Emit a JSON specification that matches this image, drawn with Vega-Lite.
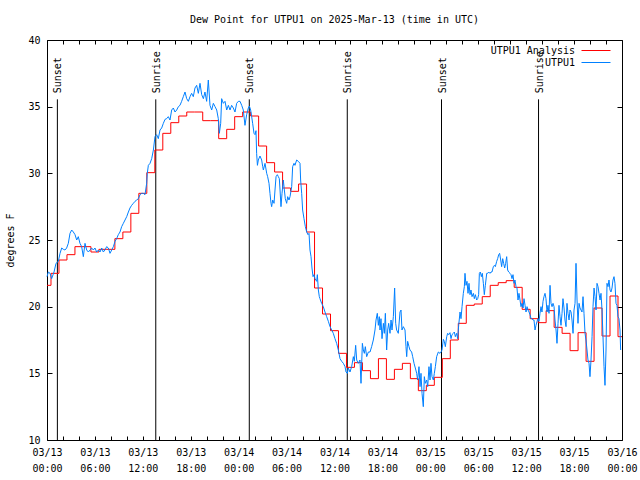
{
  "$schema": "https://vega.github.io/schema/vega-lite/v6.json",
  "autosize": {"type": "none"},
  "padding": {"left": 47, "top": 40, "right": 18, "bottom": 40},
  "width": 575,
  "height": 400,
  "background": "white",
  "title": {"text": "Dew Point for UTPU1 on 2025-Mar-13 (time in UTC)", "fontSize": 10, "fontWeight": "normal", "color": "black", "offset": 10, "anchor": "middle", "frame": "group"},
  "config": {
    "font": "DejaVu Sans Mono",
    "view": {"stroke": "black", "strokeWidth": 1},
    "axis": {"grid": false, "domain": false, "tickColor": "black", "labelColor": "black", "titleColor": "black", "labelFontSize": 10, "titleFontSize": 10, "titleFontWeight": "normal"}
  },
  "datasets": {
    "sun": [
      {"hour": 1.3, "event": "Sunset"},
      {"hour": 13.62, "event": "Sunrise"},
      {"hour": 25.33, "event": "Sunset"},
      {"hour": 37.6, "event": "Sunrise"},
      {"hour": 49.4, "event": "Sunset"},
      {"hour": 61.55, "event": "Sunrise"}
    ],
    "analysis": [
      {"hour": 0, "dewpoint": 21.6}, {"hour": 1, "dewpoint": 22.5}, {"hour": 2, "dewpoint": 23.5}, {"hour": 3, "dewpoint": 23.9},
      {"hour": 4, "dewpoint": 24.5}, {"hour": 5, "dewpoint": 24.5}, {"hour": 6, "dewpoint": 24.1}, {"hour": 7, "dewpoint": 24.3},
      {"hour": 8, "dewpoint": 24.3}, {"hour": 9, "dewpoint": 25.1}, {"hour": 10, "dewpoint": 25.6}, {"hour": 11, "dewpoint": 27.0},
      {"hour": 12, "dewpoint": 28.5}, {"hour": 13, "dewpoint": 30.05}, {"hour": 14, "dewpoint": 31.75}, {"hour": 15, "dewpoint": 33.0},
      {"hour": 16, "dewpoint": 33.8}, {"hour": 17, "dewpoint": 34.3}, {"hour": 18, "dewpoint": 34.6}, {"hour": 19, "dewpoint": 34.6},
      {"hour": 20, "dewpoint": 33.95}, {"hour": 21, "dewpoint": 33.95}, {"hour": 22, "dewpoint": 32.6}, {"hour": 23, "dewpoint": 33.3},
      {"hour": 24, "dewpoint": 34.25}, {"hour": 25, "dewpoint": 34.6}, {"hour": 26, "dewpoint": 34.3}, {"hour": 27, "dewpoint": 32.05},
      {"hour": 28, "dewpoint": 30.8}, {"hour": 29, "dewpoint": 30.1}, {"hour": 30, "dewpoint": 28.9}, {"hour": 31, "dewpoint": 28.65},
      {"hour": 32, "dewpoint": 29.2}, {"hour": 33, "dewpoint": 25.6}, {"hour": 34, "dewpoint": 21.4}, {"hour": 35, "dewpoint": 19.45},
      {"hour": 36, "dewpoint": 18.2}, {"hour": 37, "dewpoint": 16.5}, {"hour": 38, "dewpoint": 15.45}, {"hour": 39, "dewpoint": 15.8},
      {"hour": 40, "dewpoint": 15.2}, {"hour": 41, "dewpoint": 14.6}, {"hour": 42, "dewpoint": 16.1}, {"hour": 43, "dewpoint": 14.55},
      {"hour": 44, "dewpoint": 15.3}, {"hour": 45, "dewpoint": 15.75}, {"hour": 46, "dewpoint": 14.6}, {"hour": 47, "dewpoint": 13.7},
      {"hour": 48, "dewpoint": 14.1}, {"hour": 49, "dewpoint": 14.7}, {"hour": 50, "dewpoint": 16.1}, {"hour": 51, "dewpoint": 17.5},
      {"hour": 52, "dewpoint": 18.75}, {"hour": 53, "dewpoint": 20.1}, {"hour": 54, "dewpoint": 20.2}, {"hour": 55, "dewpoint": 20.75},
      {"hour": 56, "dewpoint": 21.6}, {"hour": 57, "dewpoint": 21.8}, {"hour": 58, "dewpoint": 21.95}, {"hour": 59, "dewpoint": 21.45},
      {"hour": 60, "dewpoint": 19.8}, {"hour": 61, "dewpoint": 19.1}, {"hour": 62, "dewpoint": 18.8}, {"hour": 63, "dewpoint": 19.7},
      {"hour": 64, "dewpoint": 18.45}, {"hour": 65, "dewpoint": 18.0}, {"hour": 66, "dewpoint": 16.7}, {"hour": 67, "dewpoint": 18.05},
      {"hour": 68, "dewpoint": 15.9}, {"hour": 69, "dewpoint": 19.9}, {"hour": 70, "dewpoint": 17.8}, {"hour": 71, "dewpoint": 20.8},
      {"hour": 72, "dewpoint": 17.75}
    ],
    "obs": [
      {"hour": 0.0, "dewpoint": 22.25}, {"hour": 0.17, "dewpoint": 22.6}, {"hour": 0.38, "dewpoint": 22.5}, {"hour": 0.58, "dewpoint": 22.1},
      {"hour": 0.88, "dewpoint": 22.6}, {"hour": 1.13, "dewpoint": 23.25}, {"hour": 1.42, "dewpoint": 23.4}, {"hour": 1.63, "dewpoint": 24.0},
      {"hour": 1.84, "dewpoint": 24.4}, {"hour": 2.05, "dewpoint": 24.3}, {"hour": 2.25, "dewpoint": 24.25}, {"hour": 2.46, "dewpoint": 24.4},
      {"hour": 2.67, "dewpoint": 24.75}, {"hour": 2.88, "dewpoint": 25.5}, {"hour": 3.09, "dewpoint": 25.75}, {"hour": 3.3, "dewpoint": 25.6},
      {"hour": 3.51, "dewpoint": 25.4}, {"hour": 3.72, "dewpoint": 25.0}, {"hour": 3.92, "dewpoint": 25.25}, {"hour": 4.13, "dewpoint": 24.75},
      {"hour": 4.34, "dewpoint": 24.5}, {"hour": 4.55, "dewpoint": 23.75}, {"hour": 4.76, "dewpoint": 24.75}, {"hour": 4.97, "dewpoint": 24.25},
      {"hour": 5.18, "dewpoint": 24.1}, {"hour": 5.39, "dewpoint": 24.25}, {"hour": 5.59, "dewpoint": 24.4}, {"hour": 5.8, "dewpoint": 24.25},
      {"hour": 6.01, "dewpoint": 24.4}, {"hour": 6.22, "dewpoint": 24.1}, {"hour": 6.43, "dewpoint": 24.25}, {"hour": 6.64, "dewpoint": 24.1},
      {"hour": 6.85, "dewpoint": 24.4}, {"hour": 7.05, "dewpoint": 24.1}, {"hour": 7.26, "dewpoint": 24.25}, {"hour": 7.47, "dewpoint": 24.5},
      {"hour": 7.68, "dewpoint": 24.4}, {"hour": 7.89, "dewpoint": 24.0}, {"hour": 8.1, "dewpoint": 24.25}, {"hour": 8.31, "dewpoint": 24.5},
      {"hour": 8.52, "dewpoint": 24.9}, {"hour": 8.72, "dewpoint": 25.1}, {"hour": 8.93, "dewpoint": 25.4}, {"hour": 9.14, "dewpoint": 25.6},
      {"hour": 9.35, "dewpoint": 26.0}, {"hour": 9.56, "dewpoint": 26.25}, {"hour": 9.77, "dewpoint": 26.5}, {"hour": 9.98, "dewpoint": 26.75},
      {"hour": 10.19, "dewpoint": 27.1}, {"hour": 10.39, "dewpoint": 27.4}, {"hour": 10.6, "dewpoint": 27.6}, {"hour": 10.81, "dewpoint": 27.75},
      {"hour": 11.02, "dewpoint": 27.9}, {"hour": 11.23, "dewpoint": 28.0}, {"hour": 11.44, "dewpoint": 28.1}, {"hour": 11.65, "dewpoint": 28.4},
      {"hour": 11.85, "dewpoint": 28.5}, {"hour": 12.06, "dewpoint": 28.5}, {"hour": 12.27, "dewpoint": 28.4}, {"hour": 12.48, "dewpoint": 29.25},
      {"hour": 12.56, "dewpoint": 30.0}, {"hour": 12.69, "dewpoint": 30.6}, {"hour": 12.9, "dewpoint": 30.75}, {"hour": 13.11, "dewpoint": 31.1},
      {"hour": 13.32, "dewpoint": 31.75}, {"hour": 13.52, "dewpoint": 32.75}, {"hour": 13.73, "dewpoint": 32.9}, {"hour": 13.94, "dewpoint": 32.6},
      {"hour": 14.15, "dewpoint": 33.25}, {"hour": 14.36, "dewpoint": 33.4}, {"hour": 14.57, "dewpoint": 33.75}, {"hour": 14.78, "dewpoint": 34.05},
      {"hour": 14.98, "dewpoint": 34.1}, {"hour": 15.19, "dewpoint": 34.25}, {"hour": 15.4, "dewpoint": 34.0}, {"hour": 15.61, "dewpoint": 34.75},
      {"hour": 15.82, "dewpoint": 34.9}, {"hour": 16.03, "dewpoint": 34.6}, {"hour": 16.24, "dewpoint": 34.75}, {"hour": 16.45, "dewpoint": 35.0},
      {"hour": 16.65, "dewpoint": 35.1}, {"hour": 16.86, "dewpoint": 35.4}, {"hour": 17.07, "dewpoint": 35.75}, {"hour": 17.28, "dewpoint": 36.1},
      {"hour": 17.49, "dewpoint": 35.6}, {"hour": 17.7, "dewpoint": 35.4}, {"hour": 17.91, "dewpoint": 35.75}, {"hour": 18.11, "dewpoint": 36.0},
      {"hour": 18.32, "dewpoint": 35.75}, {"hour": 18.53, "dewpoint": 36.4}, {"hour": 18.74, "dewpoint": 36.6}, {"hour": 18.95, "dewpoint": 36.0},
      {"hour": 19.16, "dewpoint": 36.75}, {"hour": 19.37, "dewpoint": 35.9}, {"hour": 19.58, "dewpoint": 35.6}, {"hour": 19.78, "dewpoint": 36.1},
      {"hour": 19.99, "dewpoint": 35.4}, {"hour": 20.2, "dewpoint": 37.0}, {"hour": 20.41, "dewpoint": 35.1}, {"hour": 20.62, "dewpoint": 34.75},
      {"hour": 20.83, "dewpoint": 35.25}, {"hour": 21.04, "dewpoint": 35.0}, {"hour": 21.25, "dewpoint": 34.75}, {"hour": 21.45, "dewpoint": 34.1},
      {"hour": 21.58, "dewpoint": 33.0}, {"hour": 21.75, "dewpoint": 33.75}, {"hour": 21.87, "dewpoint": 35.6}, {"hour": 22.08, "dewpoint": 35.25},
      {"hour": 22.29, "dewpoint": 35.4}, {"hour": 22.5, "dewpoint": 34.75}, {"hour": 22.71, "dewpoint": 35.1}, {"hour": 22.92, "dewpoint": 34.75},
      {"hour": 23.12, "dewpoint": 35.1}, {"hour": 23.33, "dewpoint": 34.9}, {"hour": 23.54, "dewpoint": 34.6}, {"hour": 23.75, "dewpoint": 35.25},
      {"hour": 23.96, "dewpoint": 35.4}, {"hour": 24.17, "dewpoint": 35.4}, {"hour": 24.38, "dewpoint": 35.1}, {"hour": 24.58, "dewpoint": 34.75},
      {"hour": 24.79, "dewpoint": 33.6}, {"hour": 25.0, "dewpoint": 34.4}, {"hour": 25.21, "dewpoint": 34.9}, {"hour": 25.34, "dewpoint": 35.05},
      {"hour": 25.5, "dewpoint": 34.75}, {"hour": 25.63, "dewpoint": 34.25}, {"hour": 25.75, "dewpoint": 33.75}, {"hour": 25.92, "dewpoint": 33.0},
      {"hour": 26.05, "dewpoint": 32.9}, {"hour": 26.17, "dewpoint": 33.2}, {"hour": 26.25, "dewpoint": 31.5}, {"hour": 26.35, "dewpoint": 30.6},
      {"hour": 26.46, "dewpoint": 31.0}, {"hour": 26.67, "dewpoint": 31.3}, {"hour": 26.88, "dewpoint": 31.0}, {"hour": 27.01, "dewpoint": 30.5},
      {"hour": 27.09, "dewpoint": 30.25}, {"hour": 27.3, "dewpoint": 30.75}, {"hour": 27.51, "dewpoint": 30.0}, {"hour": 27.63, "dewpoint": 29.75},
      {"hour": 27.8, "dewpoint": 29.25}, {"hour": 27.92, "dewpoint": 28.5}, {"hour": 28.05, "dewpoint": 27.75}, {"hour": 28.13, "dewpoint": 27.5},
      {"hour": 28.26, "dewpoint": 28.0}, {"hour": 28.43, "dewpoint": 27.75}, {"hour": 28.55, "dewpoint": 28.75}, {"hour": 28.68, "dewpoint": 29.75},
      {"hour": 28.84, "dewpoint": 29.9}, {"hour": 28.97, "dewpoint": 29.75}, {"hour": 29.09, "dewpoint": 29.6}, {"hour": 29.18, "dewpoint": 28.75},
      {"hour": 29.3, "dewpoint": 27.5}, {"hour": 29.43, "dewpoint": 28.5}, {"hour": 29.59, "dewpoint": 29.5}, {"hour": 29.72, "dewpoint": 28.75},
      {"hour": 29.84, "dewpoint": 28.1}, {"hour": 30.01, "dewpoint": 27.75}, {"hour": 30.14, "dewpoint": 28.25}, {"hour": 30.3, "dewpoint": 28.0},
      {"hour": 30.43, "dewpoint": 28.25}, {"hour": 30.64, "dewpoint": 29.0}, {"hour": 30.76, "dewpoint": 30.5}, {"hour": 30.93, "dewpoint": 30.75},
      {"hour": 31.05, "dewpoint": 30.6}, {"hour": 31.26, "dewpoint": 31.0}, {"hour": 31.47, "dewpoint": 30.9}, {"hour": 31.68, "dewpoint": 30.75},
      {"hour": 31.76, "dewpoint": 29.5}, {"hour": 31.89, "dewpoint": 28.5}, {"hour": 32.01, "dewpoint": 27.25}, {"hour": 32.18, "dewpoint": 26.6},
      {"hour": 32.35, "dewpoint": 26.0}, {"hour": 32.52, "dewpoint": 25.6}, {"hour": 32.68, "dewpoint": 25.4}, {"hour": 32.81, "dewpoint": 25.5},
      {"hour": 32.93, "dewpoint": 24.25}, {"hour": 33.06, "dewpoint": 23.75}, {"hour": 33.18, "dewpoint": 22.9}, {"hour": 33.31, "dewpoint": 22.25},
      {"hour": 33.43, "dewpoint": 22.4}, {"hour": 33.56, "dewpoint": 22.1}, {"hour": 33.77, "dewpoint": 21.9}, {"hour": 33.85, "dewpoint": 22.4},
      {"hour": 33.98, "dewpoint": 21.25}, {"hour": 34.1, "dewpoint": 20.75}, {"hour": 34.18, "dewpoint": 20.6}, {"hour": 34.39, "dewpoint": 20.25},
      {"hour": 34.6, "dewpoint": 20.0}, {"hour": 34.81, "dewpoint": 19.6}, {"hour": 35.02, "dewpoint": 19.25}, {"hour": 35.23, "dewpoint": 18.9},
      {"hour": 35.44, "dewpoint": 18.5}, {"hour": 35.65, "dewpoint": 18.25}, {"hour": 35.85, "dewpoint": 18.0}, {"hour": 36.06, "dewpoint": 17.6},
      {"hour": 36.27, "dewpoint": 17.25}, {"hour": 36.48, "dewpoint": 16.75}, {"hour": 36.69, "dewpoint": 16.1}, {"hour": 36.9, "dewpoint": 15.9},
      {"hour": 37.11, "dewpoint": 15.75}, {"hour": 37.32, "dewpoint": 15.5}, {"hour": 37.44, "dewpoint": 15.1}, {"hour": 37.61, "dewpoint": 15.0},
      {"hour": 37.73, "dewpoint": 15.4}, {"hour": 37.94, "dewpoint": 15.1}, {"hour": 38.15, "dewpoint": 15.5}, {"hour": 38.36, "dewpoint": 16.25},
      {"hour": 38.48, "dewpoint": 15.9}, {"hour": 38.65, "dewpoint": 17.1}, {"hour": 38.78, "dewpoint": 16.0}, {"hour": 38.98, "dewpoint": 15.75},
      {"hour": 39.19, "dewpoint": 16.0}, {"hour": 39.32, "dewpoint": 14.25}, {"hour": 39.49, "dewpoint": 17.25}, {"hour": 39.61, "dewpoint": 16.75},
      {"hour": 39.74, "dewpoint": 16.5}, {"hour": 39.86, "dewpoint": 17.0}, {"hour": 40.03, "dewpoint": 16.25}, {"hour": 40.24, "dewpoint": 16.6},
      {"hour": 40.45, "dewpoint": 16.6}, {"hour": 40.65, "dewpoint": 17.0}, {"hour": 40.86, "dewpoint": 17.5}, {"hour": 41.07, "dewpoint": 18.25},
      {"hour": 41.2, "dewpoint": 19.0}, {"hour": 41.36, "dewpoint": 19.5}, {"hour": 41.49, "dewpoint": 18.6}, {"hour": 41.61, "dewpoint": 19.25},
      {"hour": 41.7, "dewpoint": 18.25}, {"hour": 41.82, "dewpoint": 19.1}, {"hour": 41.95, "dewpoint": 17.6}, {"hour": 42.12, "dewpoint": 18.75},
      {"hour": 42.24, "dewpoint": 18.0}, {"hour": 42.37, "dewpoint": 19.5}, {"hour": 42.53, "dewpoint": 16.75}, {"hour": 42.66, "dewpoint": 18.25},
      {"hour": 42.78, "dewpoint": 18.75}, {"hour": 42.95, "dewpoint": 18.0}, {"hour": 43.08, "dewpoint": 19.0}, {"hour": 43.2, "dewpoint": 18.25},
      {"hour": 43.37, "dewpoint": 19.25}, {"hour": 43.53, "dewpoint": 21.4}, {"hour": 43.66, "dewpoint": 18.75}, {"hour": 43.78, "dewpoint": 18.25},
      {"hour": 43.99, "dewpoint": 18.0}, {"hour": 44.2, "dewpoint": 19.6}, {"hour": 44.33, "dewpoint": 19.75}, {"hour": 44.45, "dewpoint": 18.25},
      {"hour": 44.62, "dewpoint": 18.5}, {"hour": 44.83, "dewpoint": 18.25}, {"hour": 44.95, "dewpoint": 17.0}, {"hour": 45.04, "dewpoint": 16.25},
      {"hour": 45.16, "dewpoint": 17.4}, {"hour": 45.33, "dewpoint": 17.0}, {"hour": 45.45, "dewpoint": 16.75}, {"hour": 45.66, "dewpoint": 16.6},
      {"hour": 45.79, "dewpoint": 16.25}, {"hour": 45.96, "dewpoint": 15.75}, {"hour": 46.12, "dewpoint": 15.4}, {"hour": 46.29, "dewpoint": 15.0},
      {"hour": 46.41, "dewpoint": 14.5}, {"hour": 46.58, "dewpoint": 15.5}, {"hour": 46.71, "dewpoint": 14.0}, {"hour": 46.83, "dewpoint": 15.0},
      {"hour": 46.96, "dewpoint": 13.5}, {"hour": 47.12, "dewpoint": 12.5}, {"hour": 47.25, "dewpoint": 14.75}, {"hour": 47.37, "dewpoint": 14.25},
      {"hour": 47.54, "dewpoint": 14.5}, {"hour": 47.67, "dewpoint": 14.0}, {"hour": 47.83, "dewpoint": 15.5}, {"hour": 47.96, "dewpoint": 14.5},
      {"hour": 48.08, "dewpoint": 15.75}, {"hour": 48.21, "dewpoint": 14.75}, {"hour": 48.38, "dewpoint": 14.5}, {"hour": 48.5, "dewpoint": 15.0},
      {"hour": 48.63, "dewpoint": 15.5}, {"hour": 48.79, "dewpoint": 16.25}, {"hour": 49.0, "dewpoint": 16.6}, {"hour": 49.21, "dewpoint": 16.5},
      {"hour": 49.34, "dewpoint": 16.6}, {"hour": 49.46, "dewpoint": 16.75}, {"hour": 49.63, "dewpoint": 17.55}, {"hour": 49.75, "dewpoint": 17.4},
      {"hour": 49.88, "dewpoint": 17.0}, {"hour": 50.05, "dewpoint": 17.75}, {"hour": 50.17, "dewpoint": 18.0}, {"hour": 50.3, "dewpoint": 17.9},
      {"hour": 50.46, "dewpoint": 18.05}, {"hour": 50.59, "dewpoint": 17.6}, {"hour": 50.71, "dewpoint": 17.9}, {"hour": 50.88, "dewpoint": 18.0},
      {"hour": 51.01, "dewpoint": 18.1}, {"hour": 51.13, "dewpoint": 17.75}, {"hour": 51.3, "dewpoint": 18.0}, {"hour": 51.42, "dewpoint": 17.6},
      {"hour": 51.55, "dewpoint": 18.6}, {"hour": 51.72, "dewpoint": 19.6}, {"hour": 51.84, "dewpoint": 19.1}, {"hour": 51.97, "dewpoint": 20.0},
      {"hour": 52.13, "dewpoint": 21.0}, {"hour": 52.26, "dewpoint": 21.5}, {"hour": 52.34, "dewpoint": 22.5}, {"hour": 52.47, "dewpoint": 21.6},
      {"hour": 52.59, "dewpoint": 21.9}, {"hour": 52.72, "dewpoint": 21.0}, {"hour": 52.84, "dewpoint": 21.75}, {"hour": 52.97, "dewpoint": 20.9},
      {"hour": 53.09, "dewpoint": 21.25}, {"hour": 53.22, "dewpoint": 20.75}, {"hour": 53.39, "dewpoint": 21.0}, {"hour": 53.51, "dewpoint": 20.6},
      {"hour": 53.64, "dewpoint": 20.9}, {"hour": 53.8, "dewpoint": 20.5}, {"hour": 53.93, "dewpoint": 20.6}, {"hour": 54.05, "dewpoint": 20.9},
      {"hour": 54.14, "dewpoint": 22.5}, {"hour": 54.26, "dewpoint": 22.6}, {"hour": 54.39, "dewpoint": 22.25}, {"hour": 54.51, "dewpoint": 22.5},
      {"hour": 54.64, "dewpoint": 21.75}, {"hour": 54.76, "dewpoint": 20.9}, {"hour": 54.89, "dewpoint": 21.6}, {"hour": 55.06, "dewpoint": 22.5},
      {"hour": 55.18, "dewpoint": 22.5}, {"hour": 55.31, "dewpoint": 22.6}, {"hour": 55.47, "dewpoint": 22.5}, {"hour": 55.6, "dewpoint": 22.6},
      {"hour": 55.72, "dewpoint": 22.6}, {"hour": 55.89, "dewpoint": 23.0}, {"hour": 56.02, "dewpoint": 23.1}, {"hour": 56.14, "dewpoint": 23.0},
      {"hour": 56.31, "dewpoint": 23.4}, {"hour": 56.43, "dewpoint": 23.6}, {"hour": 56.56, "dewpoint": 23.9}, {"hour": 56.68, "dewpoint": 24.0},
      {"hour": 56.81, "dewpoint": 23.5}, {"hour": 56.93, "dewpoint": 23.0}, {"hour": 57.06, "dewpoint": 23.6}, {"hour": 57.18, "dewpoint": 23.25},
      {"hour": 57.31, "dewpoint": 22.9}, {"hour": 57.43, "dewpoint": 23.25}, {"hour": 57.56, "dewpoint": 23.75}, {"hour": 57.68, "dewpoint": 22.75},
      {"hour": 57.81, "dewpoint": 22.6}, {"hour": 57.98, "dewpoint": 22.5}, {"hour": 58.1, "dewpoint": 22.4}, {"hour": 58.23, "dewpoint": 22.1},
      {"hour": 58.35, "dewpoint": 22.4}, {"hour": 58.48, "dewpoint": 21.75}, {"hour": 58.6, "dewpoint": 22.0}, {"hour": 58.73, "dewpoint": 21.5},
      {"hour": 58.85, "dewpoint": 21.4}, {"hour": 58.98, "dewpoint": 20.5}, {"hour": 59.1, "dewpoint": 21.0}, {"hour": 59.23, "dewpoint": 20.5},
      {"hour": 59.35, "dewpoint": 20.0}, {"hour": 59.48, "dewpoint": 20.25}, {"hour": 59.61, "dewpoint": 19.9}, {"hour": 59.73, "dewpoint": 20.6},
      {"hour": 59.86, "dewpoint": 20.1}, {"hour": 59.98, "dewpoint": 19.6}, {"hour": 60.11, "dewpoint": 20.0}, {"hour": 60.23, "dewpoint": 19.75},
      {"hour": 60.36, "dewpoint": 19.6}, {"hour": 60.48, "dewpoint": 19.4}, {"hour": 60.61, "dewpoint": 19.1}, {"hour": 60.73, "dewpoint": 19.1},
      {"hour": 60.86, "dewpoint": 19.0}, {"hour": 60.98, "dewpoint": 19.0}, {"hour": 61.11, "dewpoint": 18.25}, {"hour": 61.23, "dewpoint": 18.6},
      {"hour": 61.36, "dewpoint": 18.9}, {"hour": 61.48, "dewpoint": 19.1}, {"hour": 61.61, "dewpoint": 18.9}, {"hour": 61.73, "dewpoint": 19.5},
      {"hour": 61.86, "dewpoint": 20.0}, {"hour": 61.98, "dewpoint": 19.6}, {"hour": 62.11, "dewpoint": 20.4}, {"hour": 62.23, "dewpoint": 20.75},
      {"hour": 62.36, "dewpoint": 21.0}, {"hour": 62.48, "dewpoint": 20.6}, {"hour": 62.61, "dewpoint": 19.6}, {"hour": 62.73, "dewpoint": 20.1},
      {"hour": 62.86, "dewpoint": 19.5}, {"hour": 62.99, "dewpoint": 21.6}, {"hour": 63.11, "dewpoint": 20.25}, {"hour": 63.24, "dewpoint": 20.0},
      {"hour": 63.36, "dewpoint": 20.25}, {"hour": 63.49, "dewpoint": 20.0}, {"hour": 63.61, "dewpoint": 19.0}, {"hour": 63.74, "dewpoint": 18.25},
      {"hour": 63.86, "dewpoint": 17.25}, {"hour": 63.99, "dewpoint": 18.75}, {"hour": 64.11, "dewpoint": 20.1}, {"hour": 64.24, "dewpoint": 19.25},
      {"hour": 64.36, "dewpoint": 18.6}, {"hour": 64.49, "dewpoint": 19.5}, {"hour": 64.61, "dewpoint": 20.6}, {"hour": 64.74, "dewpoint": 19.9},
      {"hour": 64.86, "dewpoint": 19.0}, {"hour": 64.99, "dewpoint": 18.5}, {"hour": 65.11, "dewpoint": 20.25}, {"hour": 65.24, "dewpoint": 19.5},
      {"hour": 65.37, "dewpoint": 19.0}, {"hour": 65.49, "dewpoint": 19.75}, {"hour": 65.62, "dewpoint": 19.6}, {"hour": 65.74, "dewpoint": 19.0},
      {"hour": 65.87, "dewpoint": 18.0}, {"hour": 65.99, "dewpoint": 19.75}, {"hour": 66.12, "dewpoint": 20.25}, {"hour": 66.24, "dewpoint": 23.25},
      {"hour": 66.37, "dewpoint": 20.5}, {"hour": 66.49, "dewpoint": 18.75}, {"hour": 66.62, "dewpoint": 20.25}, {"hour": 66.74, "dewpoint": 19.9},
      {"hour": 66.87, "dewpoint": 19.75}, {"hour": 66.99, "dewpoint": 19.6}, {"hour": 67.12, "dewpoint": 20.75}, {"hour": 67.24, "dewpoint": 19.5},
      {"hour": 67.37, "dewpoint": 18.0}, {"hour": 67.49, "dewpoint": 17.5}, {"hour": 67.62, "dewpoint": 16.75}, {"hour": 67.74, "dewpoint": 16.0},
      {"hour": 67.87, "dewpoint": 15.75}, {"hour": 67.99, "dewpoint": 14.75}, {"hour": 68.12, "dewpoint": 16.0}, {"hour": 68.25, "dewpoint": 17.75},
      {"hour": 68.37, "dewpoint": 20.0}, {"hour": 68.5, "dewpoint": 21.4}, {"hour": 68.62, "dewpoint": 20.75}, {"hour": 68.75, "dewpoint": 19.75},
      {"hour": 68.87, "dewpoint": 21.75}, {"hour": 69.0, "dewpoint": 21.5}, {"hour": 69.12, "dewpoint": 21.0}, {"hour": 69.25, "dewpoint": 20.5},
      {"hour": 69.37, "dewpoint": 21.0}, {"hour": 69.5, "dewpoint": 19.75}, {"hour": 69.62, "dewpoint": 17.75}, {"hour": 69.75, "dewpoint": 15.5},
      {"hour": 69.87, "dewpoint": 14.1}, {"hour": 70.0, "dewpoint": 16.75}, {"hour": 70.12, "dewpoint": 21.75}, {"hour": 70.25, "dewpoint": 21.5},
      {"hour": 70.37, "dewpoint": 22.0}, {"hour": 70.5, "dewpoint": 21.25}, {"hour": 70.62, "dewpoint": 21.1}, {"hour": 70.75, "dewpoint": 21.4},
      {"hour": 70.87, "dewpoint": 22.0}, {"hour": 71.0, "dewpoint": 22.25}, {"hour": 71.12, "dewpoint": 21.75}, {"hour": 71.25, "dewpoint": 20.25},
      {"hour": 71.37, "dewpoint": 20.1}, {"hour": 71.5, "dewpoint": 19.25}, {"hour": 71.62, "dewpoint": 19.1}, {"hour": 71.75, "dewpoint": 18.25},
      {"hour": 71.83, "dewpoint": 16.75}
    ]
  },
  "resolve": {"axis": {"x": "independent", "y": "independent"}},
  "layer": [
    {
      "data": {"name": "sun"},
      "mark": {"type": "rule", "color": "black", "strokeWidth": 1},
      "encoding": {
        "x": {"field": "hour", "type": "quantitative",
              "scale": {"domain": [0, 72], "nice": false, "zero": false},
              "axis": {"orient": "bottom", "values": [0,2,4,6,8,10,12,14,16,18,20,22,24,26,28,30,32,34,36,38,40,42,44,46,48,50,52,54,56,58,60,62,64,66,68,70,72],
                       "tickSize": -4, "labelPadding": 11, "labelBaseline": "top", "labelLineHeight": 16, "labelAngle": 0, "labelAlign": "center", "labelFlush": false, "labelOverlap": false, "title": null,
                       "labelExpr": "datum.value % 6 == 0 ? ['03/' + (13 + floor(datum.value / 24)), (datum.value % 24 < 10 ? '0' : '') + (datum.value % 24) + ':00'] : ''"}},
        "y": {"datum": 35.55, "type": "quantitative",
              "scale": {"domain": [10, 40], "nice": false, "zero": false},
              "axis": {"orient": "left", "values": [10, 15, 20, 25, 30, 35, 40], "tickSize": -5, "labelPadding": 12, "title": "degrees F", "titlePadding": 12}},
        "y2": {"datum": 10}
      }
    },
    {
      "data": {"name": "sun"},
      "mark": {"type": "text", "angle": 270, "align": "left", "baseline": "middle", "fontSize": 10, "color": "black", "dx": 0, "dy": 1},
      "encoding": {
        "x": {"field": "hour", "type": "quantitative",
              "axis": {"orient": "top", "values": [0,2,4,6,8,10,12,14,16,18,20,22,24,26,28,30,32,34,36,38,40,42,44,46,48,50,52,54,56,58,60,62,64,66,68,70,72], "tickSize": -4, "labels": false, "title": null}},
        "y": {"datum": 36.0, "type": "quantitative",
              "axis": {"orient": "right", "values": [10, 15, 20, 25, 30, 35, 40], "tickSize": -5, "labels": false, "title": null}},
        "text": {"field": "event"}
      }
    },
    {
      "data": {"name": "analysis"},
      "mark": {"type": "line", "interpolate": "step", "strokeWidth": 1},
      "encoding": {
        "x": {"field": "hour", "type": "quantitative", "axis": null},
        "y": {"field": "dewpoint", "type": "quantitative", "axis": null},
        "color": {"datum": "UTPU1 Analysis", "scale": {"domain": ["UTPU1 Analysis", "UTPU1"], "range": ["#ff0000", "#0080ff"]},
                  "legend": {"orient": "none", "legendX": 543.5, "legendY": 5, "title": null, "symbolType": "M-2.9,0H2.9", "symbolSize": 100, "symbolStrokeWidth": 1, "symbolFillColor": "transparent",
                             "labelAlign": "right", "labelOffset": -26.5, "labelFontSize": 10, "labelColor": "black", "rowPadding": 1, "padding": 0}}
      }
    },
    {
      "data": {"name": "obs"},
      "mark": {"type": "line", "strokeWidth": 1},
      "encoding": {
        "x": {"field": "hour", "type": "quantitative", "axis": null},
        "y": {"field": "dewpoint", "type": "quantitative", "axis": null},
        "color": {"datum": "UTPU1"}
      }
    }
  ]
}
